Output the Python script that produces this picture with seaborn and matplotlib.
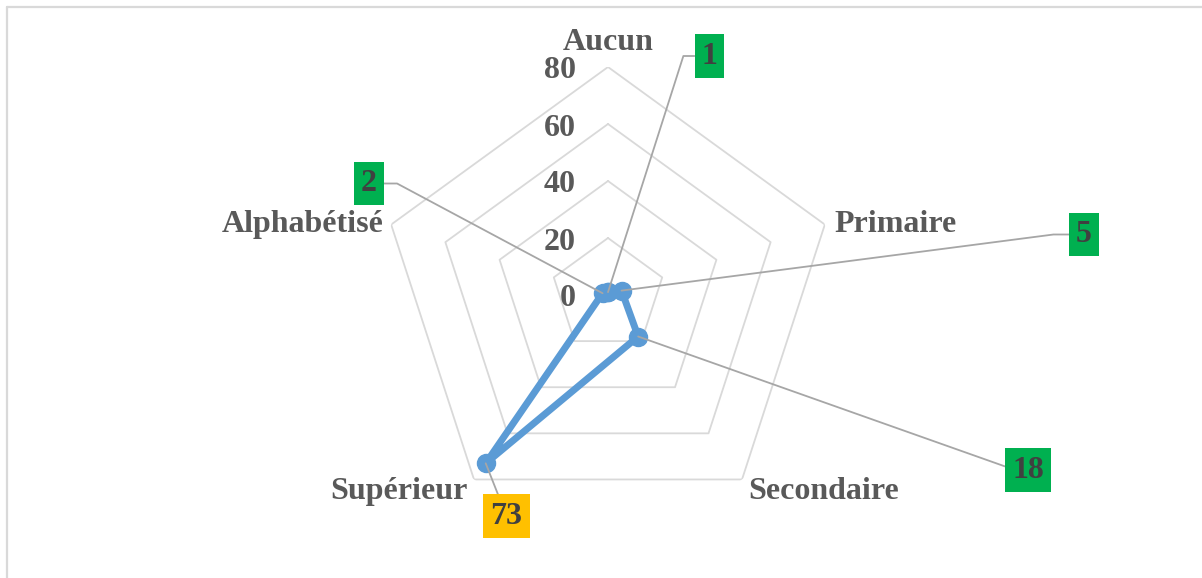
import numpy as np
import pandas as pd
import matplotlib
matplotlib.use("Agg")
import matplotlib.pyplot as plt
from matplotlib.lines import Line2D
import seaborn as sns

# data
categories = ["Aucun", "Primaire", "Secondaire", "Supérieur", "Alphabétisé"]
values = [1, 5, 18, 73, 2]
rings = [20, 40, 60, 80]
ring_labels = ["0", "20", "40", "60", "80"]

sns.set_theme(style="white")
plt.rcParams["font.family"] = ["Liberation Serif", "DejaVu Serif"]

fig = plt.figure(figsize=(12.02, 5.78), dpi=100)
fig.patch.set_facecolor("white")

# light frame (top / left edges visible in the original)
fig.add_artist(Line2D([7 / 1202, 1.0], [1 - 7 / 578, 1 - 7 / 578], transform=fig.transFigure,
                      color="#D9D9D9", lw=1.6))
fig.add_artist(Line2D([7 / 1202, 7 / 1202], [0, 1 - 7 / 578], transform=fig.transFigure,
                      color="#D9D9D9", lw=1.6))

ax = fig.add_axes([380 / 1202, 55 / 578, 456 / 1202, 456 / 578], projection="polar")
ax.set_theta_offset(np.pi / 2)
ax.set_theta_direction(-1)
ax.set_ylim(0, 80)
ax.set_facecolor("none")
ax.grid(False)
ax.spines["polar"].set_visible(False)
ax.set_xticks([])
ax.set_yticks([])

n = len(categories)
angles = [2 * np.pi * i / n for i in range(n)]

# pentagon gridlines
for lev in rings:
    ax.plot(angles + [2 * np.pi], [lev] * (n + 1), color="#D9D9D9", lw=1.3, zorder=1)

# series
df = pd.DataFrame({"theta": angles + [2 * np.pi], "r": values + [values[0]]})
sns.lineplot(data=df, x="theta", y="r", sort=False, estimator=None, ax=ax,
             color="#5B9BD5", lw=5, marker="o", markersize=13,
             markeredgecolor="#5B9BD5", markeredgewidth=1, zorder=2)
ax.set_xlabel("")
ax.set_ylabel("")

# radial tick labels
for lev, lab in zip([0] + rings, ring_labels):
    ax.annotate(lab, xy=(0, lev), xytext=(-32, -4), textcoords="offset pixels",
                ha="right", va="center", fontsize=23, fontweight="bold", color="#595959")

# category labels
cat_offsets = [(0, 24), (10, 0), (6, -12), (-6, -12), (-8, 0)]
cat_ha = ["center", "left", "left", "right", "right"]
for a, lab, off, ha in zip(angles, categories, cat_offsets, cat_ha):
    ax.annotate(lab, xy=(a, 80), xytext=off, textcoords="offset pixels",
                ha=ha, va="center", fontsize=23, fontweight="bold", color="#595959")

# data labels with leader lines
box_pos = [(709.5, 522), (1084, 343.5), (1028, 108), (506.5, 62), (369, 394.5)]
box_col = ["#00B050", "#00B050", "#00B050", "#FFC000", "#00B050"]
conn = ["angle,angleA=0,angleB=72.3,rad=0",
        "angle,angleA=0,angleB=7.4,rad=0",
        "angle,angleA=0,angleB=-19.5,rad=0",
        "arc3,rad=0",
        "angle,angleA=0,angleB=151.9,rad=0"]
for a, v, pos, col, cs in zip(angles, values, box_pos, box_col, conn):
    ax.annotate(str(v), xy=(a, v), xytext=pos, textcoords="figure pixels",
                ha="center", va="center", fontsize=23, fontweight="bold", color="#404040",
                bbox=dict(boxstyle="square,pad=0.22", fc=col, ec="none"),
                arrowprops=dict(arrowstyle="-", color="#A6A6A6", lw=1.3,
                                shrinkA=0, shrinkB=0, connectionstyle=cs),
                zorder=4)

fig.savefig("out.png", dpi=100)
